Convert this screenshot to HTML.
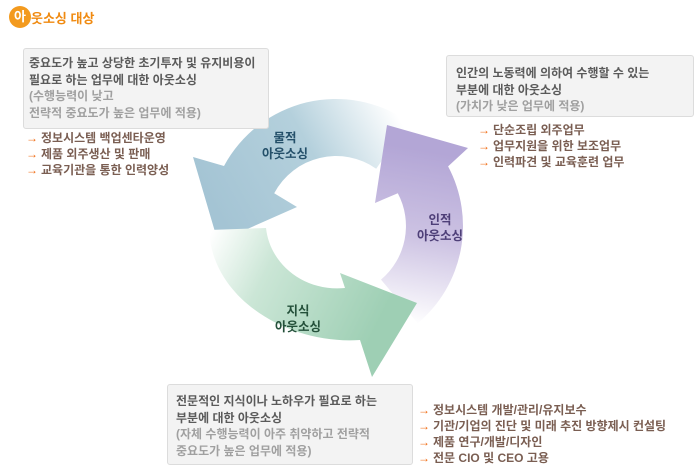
<!DOCTYPE html>
<html><head><meta charset="utf-8"><style>
body{margin:0;width:700px;height:472px;background:#fff;position:relative;overflow:hidden;font-family:"Liberation Sans","Noto Sans CJK KR",sans-serif;}
.box{position:absolute;background:#f3f3f3;border:1px solid #dcdcdc;border-radius:3px;font-size:12px;font-weight:bold;color:#5a5a5a;line-height:16.5px;box-sizing:border-box;}
.g{color:#a0a0a0;}
.b{position:absolute;font-size:12px;font-weight:bold;color:#7a5e52;line-height:16px;}
.b span{color:#f06a10;font-weight:normal;margin-right:3px;}
.lab{position:absolute;font-size:12.5px;font-weight:bold;text-align:center;line-height:16px;}
</style></head><body>
<div style="position:absolute;left:9px;top:6px;width:22px;height:22px;border-radius:50%;background:#f39a1e;color:#fff;font-weight:bold;font-size:13px;line-height:22px;text-align:center;">아</div>
<div style="position:absolute;left:31px;top:8px;color:#f08a10;font-weight:bold;font-size:13px;">웃소싱 대상</div>

<svg style="position:absolute;left:0;top:0" width="700" height="472">
<defs>
<linearGradient id="gb" x1="400" y1="120" x2="220" y2="220" gradientUnits="userSpaceOnUse"><stop offset="0" stop-color="#fff"/><stop offset="0.45" stop-color="#b4d0dc"/><stop offset="1" stop-color="#a4c4d4"/></linearGradient>
<linearGradient id="gp" x1="390" y1="320" x2="420" y2="150" gradientUnits="userSpaceOnUse"><stop offset="0" stop-color="#fff"/><stop offset="0.5" stop-color="#cdc3e3"/><stop offset="1" stop-color="#b3a6d6"/></linearGradient>
<linearGradient id="gg" x1="210" y1="235" x2="380" y2="320" gradientUnits="userSpaceOnUse"><stop offset="0" stop-color="#fff"/><stop offset="0.35" stop-color="#cbe6d6"/><stop offset="1" stop-color="#9ecfb4"/></linearGradient>
</defs>
<path d="M408.9,122 A127,127 0 0 0 224,166 L193,157 L218,242 L297,207 L274.2,193.2 A70,70 0 0 1 376.2,168.7 Z" fill="url(#gb)"/>
<path d="M417.7,323.3 A127,127 0 0 0 448.1,166.4 L468,148 L387,125 L375,203 L397.8,193.2 A70,70 0 0 1 381,279.6 Z" fill="url(#gp)"/>
<path d="M209,230 C212,300 290,345 360,340 L372,377 L417,303 L340,273 L345,288 C305,292 270,265 266,228 Z" fill="url(#gg)"/>
</svg>

<div class="lab" style="left:255px;top:130px;width:60px;color:#24506a;">물적<br>아웃소싱</div>
<div class="lab" style="left:405px;top:212px;width:70px;color:#4e3f78;">인적<br>아웃소싱</div>
<div class="lab" style="left:268px;top:303px;width:60px;color:#24503a;">지식<br>아웃소싱</div>

<div class="box" style="left:23px;top:48px;width:246px;height:81px;padding:6px 0 0 5px;">중요도가 높고 상당한 초기투자 및 유지비용이<br>필요로 하는 업무에 대한 아웃소싱<br><span class="g">(수행능력이 낮고<br>전략적 중요도가 높은 업무에 적용)</span></div>
<div class="b" style="left:26px;top:130px;"><span>→</span>정보시스템 백업센타운영<br><span>→</span>제품 외주생산 및 판매<br><span>→</span>교육기관을 통한 인력양성</div>

<div class="box" style="left:446px;top:55px;width:248px;height:62px;padding:9px 0 0 9px;">인간의 노동력에 의하여 수행할 수 있는<br>부분에 대한 아웃소싱<br><span class="g">(가치가 낮은 업무에 적용)</span></div>
<div class="b" style="left:478px;top:122px;"><span>→</span>단순조립 외주업무<br><span>→</span>업무지원을 위한 보조업무<br><span>→</span>인력파견 및 교육훈련 업무</div>

<div class="box" style="left:167px;top:384px;width:246px;height:81px;padding:8px 0 0 8px;">전문적인 지식이나 노하우가 필요로 하는<br>부분에 대한 아웃소싱<br><span class="g">(자체 수행능력이 아주 취약하고 전략적<br>중요도가 높은 업무에 적용)</span></div>
<div class="b" style="left:418px;top:402px;"><span>→</span>정보시스템 개발/관리/유지보수<br><span>→</span>기관/기업의 진단 및 미래 추진 방향제시 컨설팅<br><span>→</span>제품 연구/개발/디자인<br><span>→</span>전문 CIO 및 CEO 고용</div>
</body></html>
